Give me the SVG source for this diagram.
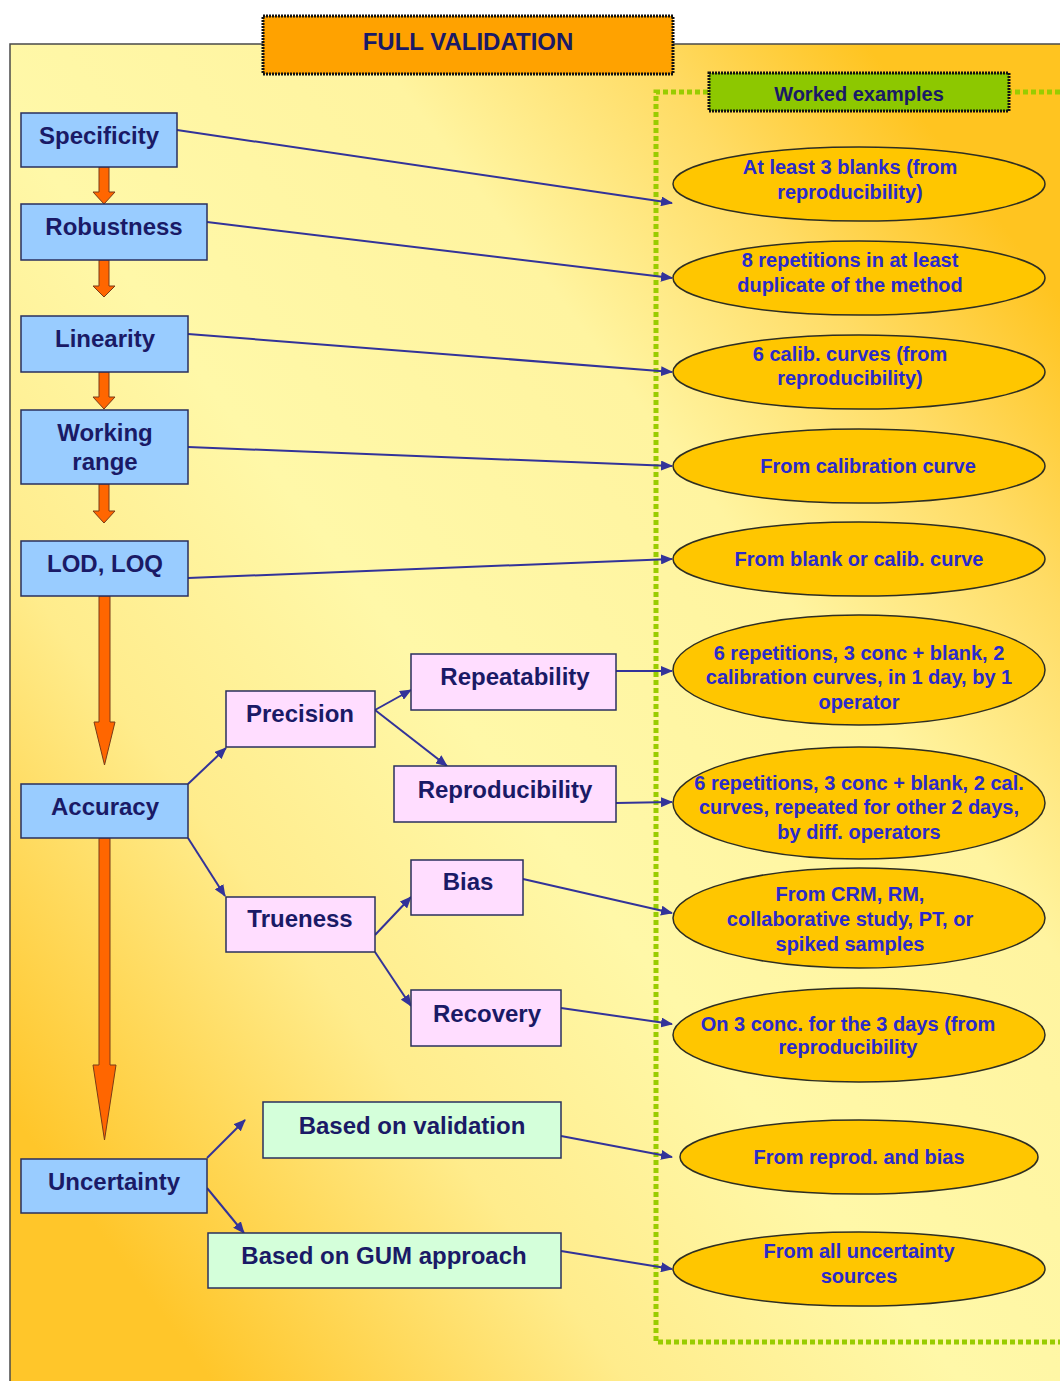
<svg xmlns="http://www.w3.org/2000/svg" width="1060" height="1381" viewBox="0 0 1060 1381">
<defs>
<linearGradient id="bg" gradientUnits="userSpaceOnUse" x1="0" y1="1100" x2="1060" y2="300">
<stop offset="0" stop-color="#FFC62A"/>
<stop offset="0.25" stop-color="#FFEC8C"/>
<stop offset="0.45" stop-color="#FFF8A8"/>
<stop offset="0.7" stop-color="#FFF4A0"/>
<stop offset="0.86" stop-color="#FFDC66"/>
<stop offset="1" stop-color="#FFC420"/>
</linearGradient>
<marker id="ah" viewBox="0 0 12 10" markerWidth="12" markerHeight="10" refX="11" refY="5" orient="auto" markerUnits="userSpaceOnUse">
<path d="M0,0 L12,5 L0,10 z" fill="#333399"/>
</marker>
<style>
.blue{fill:#99CCFF;stroke:#2A2F5E;stroke-width:1.5}
.pink{fill:#FFDDFF;stroke:#2A2F5E;stroke-width:1.5}
.mint{fill:#D4FFDA;stroke:#2A2F5E;stroke-width:1.5}
.ell{fill:#FFC600;stroke:#2E2E22;stroke-width:1.5}
.bt{font-family:"Liberation Sans",Arial,sans-serif;font-weight:bold;font-size:24px;fill:#1A1A66;text-anchor:middle}
.et{font-family:"Liberation Sans",Arial,sans-serif;font-weight:bold;font-size:20px;fill:#2A2ACC;text-anchor:middle}
.con{stroke:#333399;stroke-width:2;fill:none;marker-end:url(#ah)}
.oa{fill:#FF6600;stroke:#7A3A18;stroke-width:1}
</style>
</defs>
<rect x="0" y="0" width="1060" height="1381" fill="#FFFFFF"/>
<rect x="10" y="44" width="1060" height="1350" fill="url(#bg)"/>
<path d="M10,1381 L10,44 L1060,44" fill="none" stroke="#4A4A4A" stroke-width="1.5"/>

<g id="worked-frame">
<path d="M1060,92 L656,92 L656,1342 L1060,1342" fill="none" stroke="#99CC00" stroke-width="5" stroke-dasharray="5 3"/>
</g>

<g id="title">
<rect x="263" y="16" width="410" height="58" fill="#FFA200" stroke="#111" stroke-width="3" stroke-dasharray="2 1"/>
<text class="bt" x="468" y="50">FULL VALIDATION</text>
</g>

<g id="worked-label">
<rect x="709" y="73" width="300" height="38" fill="#8DC800" stroke="#111" stroke-width="3" stroke-dasharray="2 1"/>
<text class="bt" x="859" y="101" style="font-size:20px">Worked examples</text>
</g>

<g id="flow-arrows">
<polygon class="oa" points="99,167 109,167 109,192 115,192 104,204 93,192 99,192"/>
<polygon class="oa" points="99,260 109,260 109,286 115,286 104,297 93,286 99,286"/>
<polygon class="oa" points="99,372 109,372 109,397 115,397 104,409 93,397 99,397"/>
<polygon class="oa" points="99,484 109,484 109,511 115,511 104,523 93,511 99,511"/>
<polygon class="oa" points="99,596 110,596 110,722 115,722 104.5,765 94,722 99,722"/>
<polygon class="oa" points="99,838 110,838 110,1065 116,1065 104.5,1140 93,1065 99,1065"/>
</g>

<g id="connectors">
<line class="con" x1="177" y1="130" x2="672" y2="203"/>
<line class="con" x1="207" y1="222" x2="672" y2="278"/>
<line class="con" x1="188" y1="334" x2="672" y2="372"/>
<line class="con" x1="188" y1="447" x2="672" y2="466"/>
<line class="con" x1="188" y1="578" x2="672" y2="559"/>
<line class="con" x1="616" y1="671" x2="672" y2="671"/>
<line class="con" x1="616" y1="803" x2="672" y2="802"/>
<line class="con" x1="523" y1="879" x2="672" y2="913"/>
<line class="con" x1="561" y1="1008" x2="672" y2="1024"/>
<line class="con" x1="561" y1="1136" x2="672" y2="1157"/>
<line class="con" x1="561" y1="1251" x2="672" y2="1269"/>
<line class="con" x1="188" y1="784" x2="226" y2="748"/>
<line class="con" x1="188" y1="838" x2="225" y2="896"/>
<line class="con" x1="375" y1="710" x2="411" y2="690"/>
<line class="con" x1="375" y1="710" x2="447" y2="766"/>
<line class="con" x1="375" y1="935" x2="411" y2="897"/>
<line class="con" x1="375" y1="952" x2="411" y2="1006"/>
<line class="con" x1="207" y1="1158" x2="245" y2="1120"/>
<line class="con" x1="207" y1="1188" x2="244" y2="1233"/>
</g>

<g id="specificity"><rect class="blue" x="21" y="113" width="156" height="54"/><text class="bt" x="99" y="144">Specificity</text></g>
<g id="robustness"><rect class="blue" x="21" y="204" width="186" height="56"/><text class="bt" x="114" y="235">Robustness</text></g>
<g id="linearity"><rect class="blue" x="21" y="316" width="167" height="56"/><text class="bt" x="105" y="347">Linearity</text></g>
<g id="working-range"><rect class="blue" x="21" y="410" width="167" height="74"/><text class="bt" x="105" y="441">Working</text><text class="bt" x="105" y="470">range</text></g>
<g id="lod-loq"><rect class="blue" x="21" y="541" width="167" height="55"/><text class="bt" x="105" y="572">LOD, LOQ</text></g>
<g id="accuracy"><rect class="blue" x="21" y="784" width="167" height="54"/><text class="bt" x="105" y="815">Accuracy</text></g>
<g id="uncertainty"><rect class="blue" x="21" y="1159" width="186" height="54"/><text class="bt" x="114" y="1190">Uncertainty</text></g>

<g id="precision"><rect class="pink" x="226" y="691" width="149" height="56"/><text class="bt" x="300" y="722">Precision</text></g>
<g id="repeatability"><rect class="pink" x="411" y="654" width="205" height="56"/><text class="bt" x="515" y="685">Repeatability</text></g>
<g id="reproducibility"><rect class="pink" x="394" y="766" width="222" height="56"/><text class="bt" x="505" y="798">Reproducibility</text></g>
<g id="trueness"><rect class="pink" x="226" y="897" width="149" height="55"/><text class="bt" x="300" y="927">Trueness</text></g>
<g id="bias"><rect class="pink" x="411" y="860" width="112" height="55"/><text class="bt" x="468" y="890">Bias</text></g>
<g id="recovery"><rect class="pink" x="411" y="990" width="150" height="56"/><text class="bt" x="487" y="1022">Recovery</text></g>

<g id="based-validation"><rect class="mint" x="263" y="1102" width="298" height="56"/><text class="bt" x="412" y="1134">Based on validation</text></g>
<g id="based-gum"><rect class="mint" x="208" y="1233" width="353" height="55"/><text class="bt" x="384" y="1264">Based on GUM approach</text></g>

<g id="ex-blanks"><ellipse class="ell" cx="859" cy="184" rx="186" ry="37"/><text class="et" x="850" y="174">At least 3 blanks (from</text><text class="et" x="850" y="199">reproducibility)</text></g>
<g id="ex-repetitions"><ellipse class="ell" cx="859" cy="278" rx="186" ry="37"/><text class="et" x="850" y="267">8 repetitions in at least</text><text class="et" x="850" y="292">duplicate of the method</text></g>
<g id="ex-calib"><ellipse class="ell" cx="859" cy="372" rx="186" ry="37"/><text class="et" x="850" y="361">6 calib. curves (from</text><text class="et" x="850" y="385">reproducibility)</text></g>
<g id="ex-calcurve"><ellipse class="ell" cx="859" cy="466" rx="186" ry="37"/><text class="et" x="868" y="473">From calibration curve</text></g>
<g id="ex-blank"><ellipse class="ell" cx="859" cy="559" rx="186" ry="37"/><text class="et" x="859" y="566">From blank or calib. curve</text></g>
<g id="ex-repeat"><ellipse class="ell" cx="859" cy="670" rx="186" ry="55"/><text class="et" x="859" y="660">6 repetitions, 3 conc + blank, 2</text><text class="et" x="859" y="684">calibration curves, in 1 day, by 1</text><text class="et" x="859" y="709">operator</text></g>
<g id="ex-reprod"><ellipse class="ell" cx="859" cy="803" rx="186" ry="56"/><text class="et" x="859" y="790">6 repetitions, 3 conc + blank, 2 cal.</text><text class="et" x="859" y="814">curves, repeated for other 2 days,</text><text class="et" x="859" y="839">by diff. operators</text></g>
<g id="ex-crm"><ellipse class="ell" cx="859" cy="918" rx="186" ry="50"/><text class="et" x="850" y="901">From CRM, RM,</text><text class="et" x="850" y="926">collaborative study, PT, or</text><text class="et" x="850" y="951">spiked samples</text></g>
<g id="ex-conc"><ellipse class="ell" cx="859" cy="1035" rx="186" ry="47"/><text class="et" x="848" y="1031">On 3 conc. for the 3 days (from</text><text class="et" x="848" y="1054">reproducibility</text></g>
<g id="ex-reprodbias"><ellipse class="ell" cx="859" cy="1157" rx="179" ry="37"/><text class="et" x="859" y="1164">From reprod. and bias</text></g>
<g id="ex-all"><ellipse class="ell" cx="859" cy="1269" rx="186" ry="37"/><text class="et" x="859" y="1258">From all uncertainty</text><text class="et" x="859" y="1283">sources</text></g>
</svg>
